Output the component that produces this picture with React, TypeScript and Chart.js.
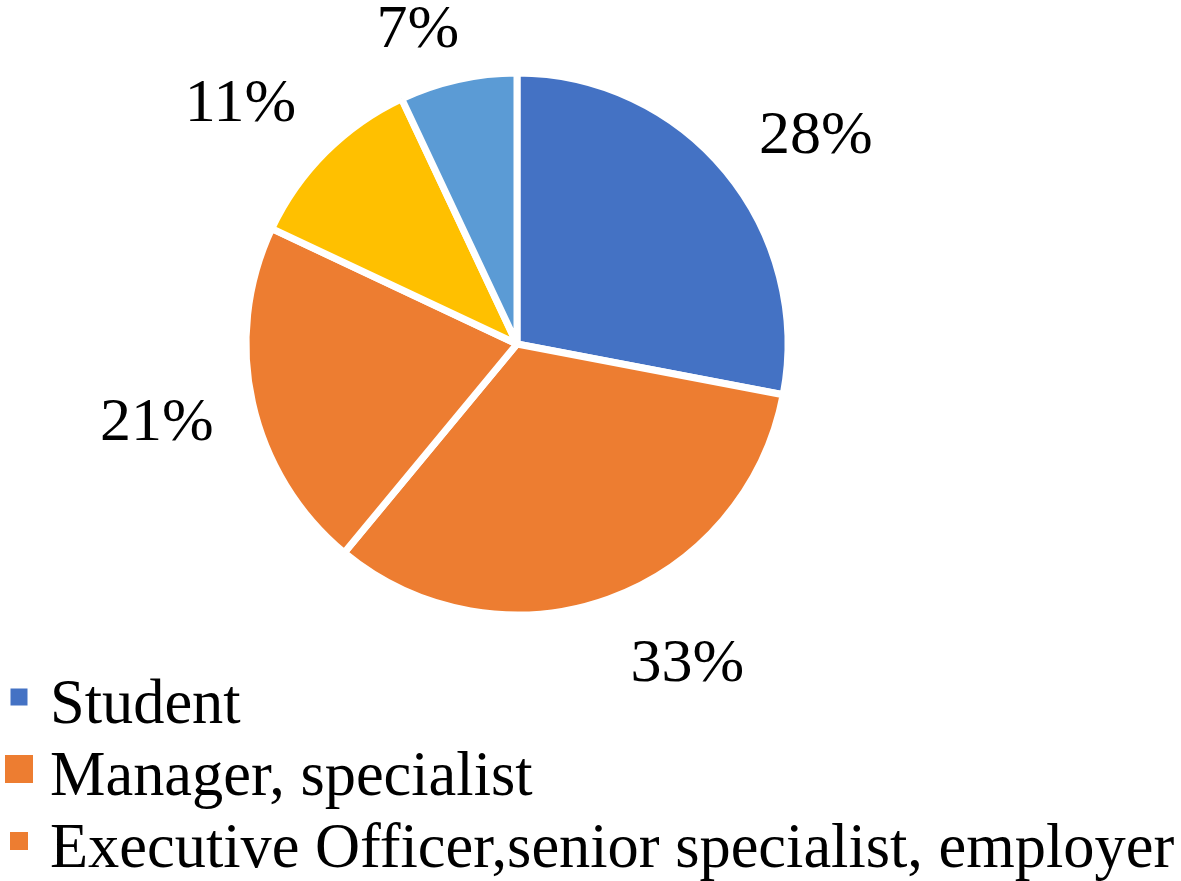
import React, { useEffect, useRef } from "react";
import { Chart, registerables } from "chart.js";

Chart.register(...registerables);

// ---- data ----
const categories = [
  "Student",
  "Manager, specialist",
  "Executive Officer,senior specialist, employer",
  "Other (11%)",
  "Other (7%)",
];
const shares = [28, 33, 21, 11, 7];
const sliceColors = ["#4472C4", "#ED7D31", "#ED7D31", "#FFC000", "#5B9BD5"];
const legendShown = 3; // only the first three legend rows are visible

// ---- layout tweaks (not data) ----
const labelNudges: [number, number][] = [
  [16, 23],
  [46, -28],
  [-2, -4],
  [-17, 17],
  [-19, 41],
];
const legendMarkerSizes = [17, 28, 18];
const LABEL_FONT = "62px 'Liberation Serif', 'Times New Roman', serif";
const LEGEND_FONT = "62.4px 'Liberation Serif', 'Times New Roman', serif";

const pctLabelPlugin = {
  id: "pctLabels",
  afterDatasetsDraw(chart: any) {
    const ctx = chart.ctx as CanvasRenderingContext2D;
    const meta = chart.getDatasetMeta(0);
    ctx.save();
    ctx.font = LABEL_FONT;
    ctx.fillStyle = "#000000";
    ctx.textAlign = "center";
    ctx.textBaseline = "alphabetic";
    meta.data.forEach((arc: any, i: number) => {
      const p = arc.getProps(["x", "y", "startAngle", "endAngle", "outerRadius"], true);
      const mid = (p.startAngle + p.endAngle) / 2;
      const R = p.outerRadius + 96;
      const n = labelNudges[i] || [0, 0];
      const cx = p.x + Math.cos(mid) * R + n[0];
      const cy = p.y + Math.sin(mid) * R + n[1];
      ctx.fillText(`${shares[i]}%`, cx, cy + 20);
    });
    ctx.restore();
  },
};

const legendPlugin = {
  id: "stackedLegend",
  afterDraw(chart: any) {
    const ctx = chart.ctx as CanvasRenderingContext2D;
    ctx.save();
    ctx.font = LEGEND_FONT;
    ctx.textAlign = "left";
    ctx.textBaseline = "alphabetic";
    const firstBaseline = 723;
    const rowGap = 72;
    for (let i = 0; i < legendShown; i++) {
      const base = firstBaseline + i * rowGap;
      const s = legendMarkerSizes[i];
      const mx = 19 - s / 2;
      const my = base - 26 - s / 2;
      ctx.fillStyle = sliceColors[i];
      ctx.fillRect(mx, my, s, s);
      ctx.fillStyle = "#000000";
      ctx.fillText(categories[i], 50, base);
    }
    ctx.restore();
  },
};

export default function App() {
  const ref = useRef<HTMLCanvasElement | null>(null);

  useEffect(() => {
    document.body.style.margin = "0";
    const canvas = ref.current;
    if (!canvas) return;
    const chart = new Chart(canvas, {
      type: "pie",
      data: {
        labels: categories,
        datasets: [
          {
            data: shares,
            backgroundColor: sliceColors,
            borderColor: "#FFFFFF",
            borderWidth: 7,
          },
        ],
      },
      options: {
        responsive: false,
        animation: false,
        devicePixelRatio: 1,
        radius: 271,
        rotation: 0,
        layout: { padding: { left: 0, right: 147, top: 0, bottom: 193 } },
        plugins: {
          legend: { display: false },
          tooltip: { enabled: false },
          title: { display: false },
        },
        events: [],
      } as any,
      plugins: [pctLabelPlugin, legendPlugin],
    });
    return () => chart.destroy();
  }, []);

  return (
    <canvas
      ref={ref}
      width={1181}
      height={881}
      style={{ display: "block", width: 1181, height: 881, background: "#FFFFFF" }}
    />
  );
}
